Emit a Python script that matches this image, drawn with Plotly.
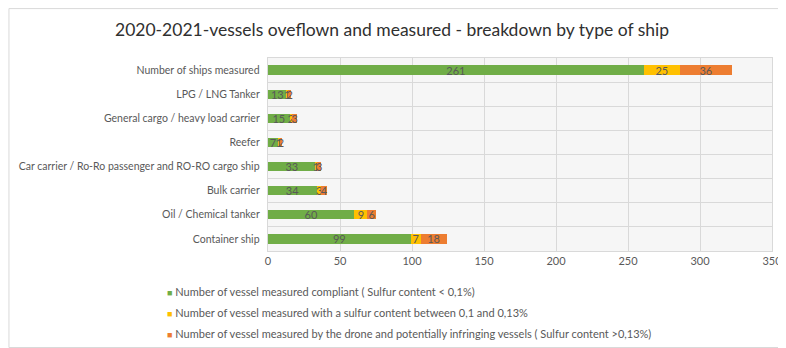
import plotly.graph_objects as go

ship_types = [
    'Number of ships measured',
    'LPG / LNG Tanker',
    'General cargo / heavy load carrier',
    'Reefer',
    'Car carrier / Ro-Ro passenger and RO-RO cargo ship',
    'Bulk carrier',
    'Oil / Chemical tanker',
    'Container ship',
]
compliant = [261, 13, 15, 7, 33, 34, 60, 99]
between = [25, 1, 2, 1, 1, 3, 9, 7]
infringing = [36, 2, 3, 2, 3, 4, 6, 18]

series_names = [
    'Number of vessel measured compliant ( Sulfur content < 0,1%)',
    'Number of vessel measured with a sulfur content between 0,1 and 0,13%',
    'Number of vessel measured by the drone and potentially infringing vessels ( Sulfur content >0,13%)',
]
colors = ['#70AD47', '#FFC000', '#ED7D31']

fig = go.Figure()
for name, vals, col in zip(series_names, [compliant, between, infringing], colors):
    fig.add_trace(go.Bar(
        y=ship_types, x=vals, name=name, orientation='h',
        marker=dict(color=col, line=dict(width=0)),
        text=vals, textposition='inside', insidetextanchor='middle',
        textangle=0, constraintext='none',
        textfont=dict(color='#595959', size=11, family='Lato'),
        showlegend=False,
    ))

# legend drawn as text rows under the plot, like the original
legend_y = [-0.21, -0.319, -0.428]
annotations = []
for name, col, ly in zip(series_names, colors, legend_y):
    annotations.append(dict(
        xref='paper', yref='paper', x=-0.204, y=ly,
        xanchor='left', yanchor='middle', showarrow=False,
        text=f"<span style='color:{col};font-size:9px'>■</span> {name}",
        font=dict(size=11, color='#595959', family='Lato'),
    ))

# page body adds an 8px offset, so the figure is 8px smaller than the window
fig.update_layout(
    width=778, height=340,
    barmode='stack', bargap=0.62,
    paper_bgcolor='white', plot_bgcolor='#f6f6f6',
    font=dict(family='Lato', color='#595959', size=11),
    title=dict(
        text='2020-2021-vessels oveflown and measured - breakdown by type of ship',
        x=0.4936, xanchor='center', y=0.935, yanchor='middle',
        font=dict(size=17.5, color='#303030', family='Lato'),
    ),
    margin=dict(l=260, r=14, t=50, b=97),
    uniformtext=dict(minsize=11, mode='show'),
    showlegend=False,
    annotations=annotations,
    xaxis=dict(
        range=[0, 350], dtick=50, showgrid=True, gridcolor='#d9d9d9',
        zeroline=False, showline=True, linecolor='#d9d9d9', mirror=True,
        ticks='', tickfont=dict(size=11, color='#595959'), automargin=False,
    ),
    yaxis=dict(
        autorange='reversed', tickson='boundaries', showgrid=True,
        gridcolor='#d9d9d9', ticks='', showline=True, linecolor='#d9d9d9',
        mirror=True, tickfont=dict(size=10.5, color='#595959'), ticksuffix='  ',
        automargin=False,
    ),
    shapes=[dict(
        type='rect', xref='paper', yref='paper',
        x0=-0.514, x1=1.026, y0=-0.5, y1=1.256,
        line=dict(color='#d9d9d9', width=1), fillcolor='rgba(0,0,0,0)',
        layer='below',
    )],
)

fig.write_html('out.html')
